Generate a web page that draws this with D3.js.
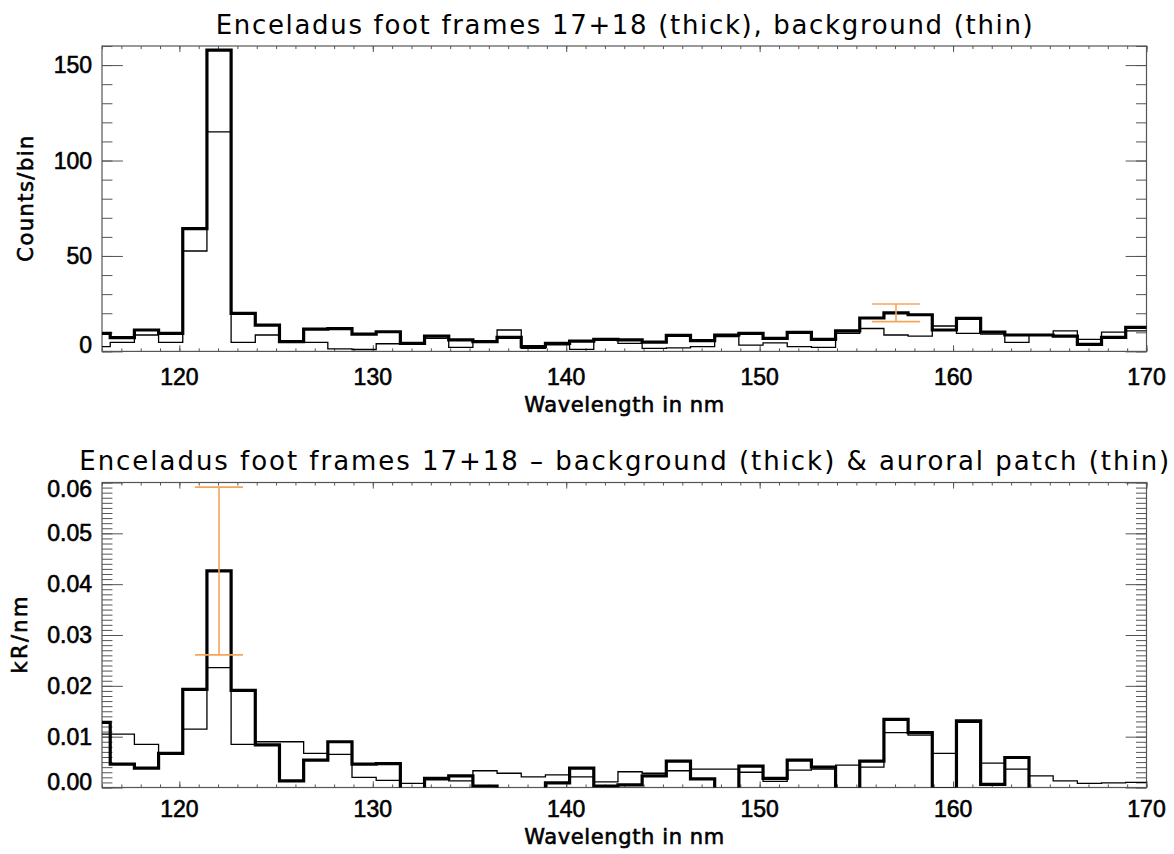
<!DOCTYPE html>
<html>
<head>
<meta charset="utf-8">
<script src="https://cdn.jsdelivr.net/npm/d3@7"></script>
<style>
  html, body { margin: 0; padding: 0; background: #fff; }
  svg { display: block; }
  .title { font-family: "DejaVu Sans", sans-serif; font-size: 26px; fill: #000; }
  .axtitle { font-family: "DejaVu Sans", sans-serif; font-size: 21px; fill: #000; stroke: #000; stroke-width: 0.6px; }
  .ticklab { font-family: "Liberation Sans", sans-serif; font-size: 23px; fill: #000; stroke: #000; stroke-width: 0.6px; }
</style>
</head>
<body>
<svg id="chart" width="1174" height="854"></svg>
<script>
// Bin centres (nm), 1.25 nm wide bins
const wavelength = [115.8, 117.05, 118.3, 119.55, 120.8, 122.05, 123.3, 124.55, 125.8, 127.05,
  128.3, 129.55, 130.8, 132.05, 133.3, 134.55, 135.8, 137.05, 138.3, 139.55,
  140.8, 142.05, 143.3, 144.55, 145.8, 147.05, 148.3, 149.55, 150.8, 152.05,
  153.3, 154.55, 155.8, 157.05, 158.3, 159.55, 160.8, 162.05, 163.3, 164.55,
  165.8, 167.05, 168.3, 169.55];
const binWidth = 1.25;

// Upper panel: counts per bin, foot frames 17+18 (thick) and background (thin)
const countsFootFrames = [9.4, 7.2, 11.2, 9.4, 64.3, 157.8, 19.9, 13.8, 5.1, 11.7,
  11.9, 9.1, 10.3, 4.2, 8.0, 6.0, 5.1, 7.4, 2.5, 4.2,
  5.4, 6.3, 6.0, 4.9, 8.4, 5.6, 8.6, 9.4, 6.8, 10.0,
  6.3, 10.8, 17.5, 20.2, 19.2, 11.2, 17.3, 10.1, 8.6, 8.6,
  8.0, 3.7, 7.4, 12.6];
const countsBackground = [2.5, 4.7, 8.6, 4.7, 52.6, 115.0, 4.7, 8.6, 5.0, 4.7,
  1.3, 1.0, 4.0, 4.0, 6.8, 2.1, 5.1, 11.2, 1.6, 3.4,
  1.1, 6.0, 4.2, 1.6, 1.8, 2.5, 7.7, 3.3, 4.5, 2.5,
  2.1, 9.5, 12.0, 8.6, 8.0, 13.3, 9.4, 9.1, 4.7, 8.6,
  10.8, 6.3, 10.1, 10.8];

// Lower panel: kR/nm, foot minus background (thick) and auroral patch (thin)
const kRFootMinusBackground = [0.0128, 0.0046, 0.0038, 0.0067, 0.0193, 0.0426, 0.0191, 0.0084, 0.0013, 0.0054,
  0.0090, 0.0046, 0.0047, -0.0005, 0.0018, 0.0023, 0.0003, -0.0008, -0.0006, 0.0009,
  0.0038, 0.0003, 0.0005, 0.0023, 0.0052, 0.0017, -0.0004, 0.0042, 0.0018, 0.0054,
  0.0040, -0.0003, 0.0052, 0.0134, 0.0108, -0.0002, 0.0131, 0.0006, 0.0059, -0.0010,
  -0.0012, -0.0008, -0.0010, -0.0006];
const kRAuroralPatch = [0.0105, 0.0105, 0.0085, 0.0067, 0.0115, 0.0236, 0.0085, 0.0090, 0.0090, 0.0067,
  0.0065, 0.0020, 0.0014, 0.0008, 0.0015, 0.0013, 0.0033, 0.0028, 0.0021, 0.0025,
  0.0021, 0.0011, 0.0031, 0.0028, 0.0033, 0.0036, 0.0036, 0.0030, 0.0012, 0.0034,
  0.0036, 0.0044, 0.0040, 0.0108, 0.0103, 0.0067, 0.0128, 0.0048, 0.0036, 0.0023,
  0.0013, 0.0008, 0.0009, 0.0010];

// One-sigma error bars
const countsErrorBar = { wavelength: 157.05, value: 20.2, error: 4.6 };
const kRErrorBar = { wavelength: 122.05, value: 0.0426, error: 0.0165 };

// Axis ticks and labels
const xDomain = [116, 170];
const xTicks = [120, 130, 140, 150, 160, 170];
const countsDomain = [0, 160];
const countsTicks = [0, 50, 100, 150];
const countsTickLabels = ["0", "50", "100", "150"];
const kRDomain = [0, 0.06];
const kRTicks = [0, 0.01, 0.02, 0.03, 0.04, 0.05, 0.06];
const kRTickLabels = ["0.00", "0.01", "0.02", "0.03", "0.04", "0.05", "0.06"];

const titleTop = "Enceladus foot frames 17+18 (thick), background (thin)";
const titleBottom = "Enceladus foot frames 17+18 \u2013 background (thick) & auroral patch (thin)";
const xTitle = "Wavelength in nm";

const svg = d3.select("#chart");
const left = 102, right = 1146.5;
const x = d3.scaleLinear().domain(xDomain).range([left, right]);
const xMinor = d3.range(xDomain[0], xDomain[1] + 1, 1);

function drawPanel(opt) {
  const { top, bottom, yDomain, yTicks, yTickLabels, yMinor, thick, thin, errorBar,
          title, titleLen, titleY, yTitle, yTitleX, yTitleLen, tickLabY, xTitleY, id } = opt;
  const y = d3.scaleLinear().domain(yDomain).range([bottom, top]);
  const g = svg.append("g");

  g.append("clipPath").attr("id", id).append("rect")
    .attr("x", left).attr("y", top).attr("width", right - left).attr("height", bottom - top);

  const h = bottom - top, w = right - left;
  const xMaj = 0.02 * h, yMaj = 0.02 * w;

  // ticks on all four sides, pointing inward
  const tickG = g.append("g");
  const axes = [
    [d3.axisBottom(x).tickValues(xTicks).tickSize(-xMaj), `translate(0,${bottom})`],
    [d3.axisBottom(x).tickValues(xMinor).tickSize(-xMaj / 2), `translate(0,${bottom})`],
    [d3.axisTop(x).tickValues(xTicks).tickSize(-xMaj), `translate(0,${top})`],
    [d3.axisTop(x).tickValues(xMinor).tickSize(-xMaj / 2), `translate(0,${top})`],
    [d3.axisLeft(y).tickValues(yTicks).tickSize(-yMaj), `translate(${left},0)`],
    [d3.axisLeft(y).tickValues(yMinor).tickSize(-yMaj / 2), `translate(${left},0)`],
    [d3.axisRight(y).tickValues(yTicks).tickSize(-yMaj), `translate(${right},0)`],
    [d3.axisRight(y).tickValues(yMinor).tickSize(-yMaj / 2), `translate(${right},0)`]
  ];
  axes.forEach(([ax, tr]) => {
    const a = tickG.append("g").attr("transform", tr).call(ax.tickFormat(""));
    a.select(".domain").remove();
    a.selectAll(".tick line").attr("stroke", "#555").attr("stroke-width", 1);
  });

  // frame
  g.append("rect").attr("x", left).attr("y", top).attr("width", w).attr("height", h)
    .attr("fill", "none").attr("stroke", "#555").attr("stroke-width", 1.2);

  // tick labels
  g.append("g").selectAll("text").data(xTicks).join("text")
    .attr("class", "ticklab").attr("text-anchor", "middle")
    .attr("x", d => x(d)).attr("y", tickLabY).text(d => d);
  g.append("g").selectAll("text").data(yTicks).join("text")
    .attr("class", "ticklab").attr("text-anchor", "end")
    .attr("x", left - 10)
    .attr("y", d => Math.min(Math.max(y(d), top + 6), bottom - 6) + 8)
    .text((d, i) => yTickLabels[i]);

  // titles
  g.append("text").attr("class", "title").attr("text-anchor", "middle")
    .attr("x", (left + right) / 2).attr("y", titleY)
    .attr("textLength", titleLen).attr("lengthAdjust", "spacing").text(title);
  g.append("text").attr("class", "axtitle").attr("text-anchor", "middle")
    .attr("x", (left + right) / 2).attr("y", xTitleY)
    .attr("textLength", 200).attr("lengthAdjust", "spacing").text(xTitle);
  g.append("text").attr("class", "axtitle").attr("text-anchor", "middle")
    .attr("transform", `translate(${yTitleX},${(top + bottom) / 2}) rotate(-90)`)
    .attr("textLength", yTitleLen).attr("lengthAdjust", "spacing").text(yTitle);

  // histogram steps
  const stepPts = vals => vals.flatMap((v, i) => [[wavelength[i] - binWidth / 2, v], [wavelength[i] + binWidth / 2, v]]);
  const line = d3.line().x(d => x(d[0])).y(d => y(d[1]));
  const plot = g.append("g").attr("clip-path", `url(#${id})`);
  plot.append("path").attr("d", line(stepPts(thin)))
    .attr("fill", "none").attr("stroke", "#000").attr("stroke-width", 1.3);
  plot.append("path").attr("d", line(stepPts(thick)))
    .attr("fill", "none").attr("stroke", "#000").attr("stroke-width", 3.2).attr("stroke-linejoin", "miter");

  // error bar
  const eb = g.append("g").attr("stroke", "#f5a55a").attr("stroke-width", 1.6);
  const ex = x(errorBar.wavelength);
  const yHi = y(errorBar.value + errorBar.error), yLo = y(errorBar.value - errorBar.error);
  eb.append("line").attr("x1", ex).attr("x2", ex).attr("y1", yHi).attr("y2", yLo);
  eb.append("line").attr("x1", ex - 24).attr("x2", ex + 24).attr("y1", yHi).attr("y2", yHi);
  eb.append("line").attr("x1", ex - 24).attr("x2", ex + 24).attr("y1", yLo).attr("y2", yLo);
}

drawPanel({
  id: "clipTop", top: 46, bottom: 351.4,
  yDomain: countsDomain, yTicks: countsTicks, yTickLabels: countsTickLabels,
  yMinor: d3.range(0, 161, 10),
  thick: countsFootFrames, thin: countsBackground, errorBar: countsErrorBar,
  title: titleTop, titleLen: 817, titleY: 34,
  yTitle: "Counts/bin", yTitleX: 33, yTitleLen: 126,
  tickLabY: 384.5, xTitleY: 412
});

drawPanel({
  id: "clipBottom", top: 482.5, bottom: 787.5,
  yDomain: kRDomain, yTicks: kRTicks, yTickLabels: kRTickLabels,
  yMinor: d3.range(0, 61, 1).map(d => d / 1000),
  thick: kRFootMinusBackground, thin: kRAuroralPatch, errorBar: kRErrorBar,
  title: titleBottom, titleLen: 1090, titleY: 470,
  yTitle: "kR/nm", yTitleX: 27, yTitleLen: 77,
  tickLabY: 817, xTitleY: 844
});
</script>
</body>
</html>
